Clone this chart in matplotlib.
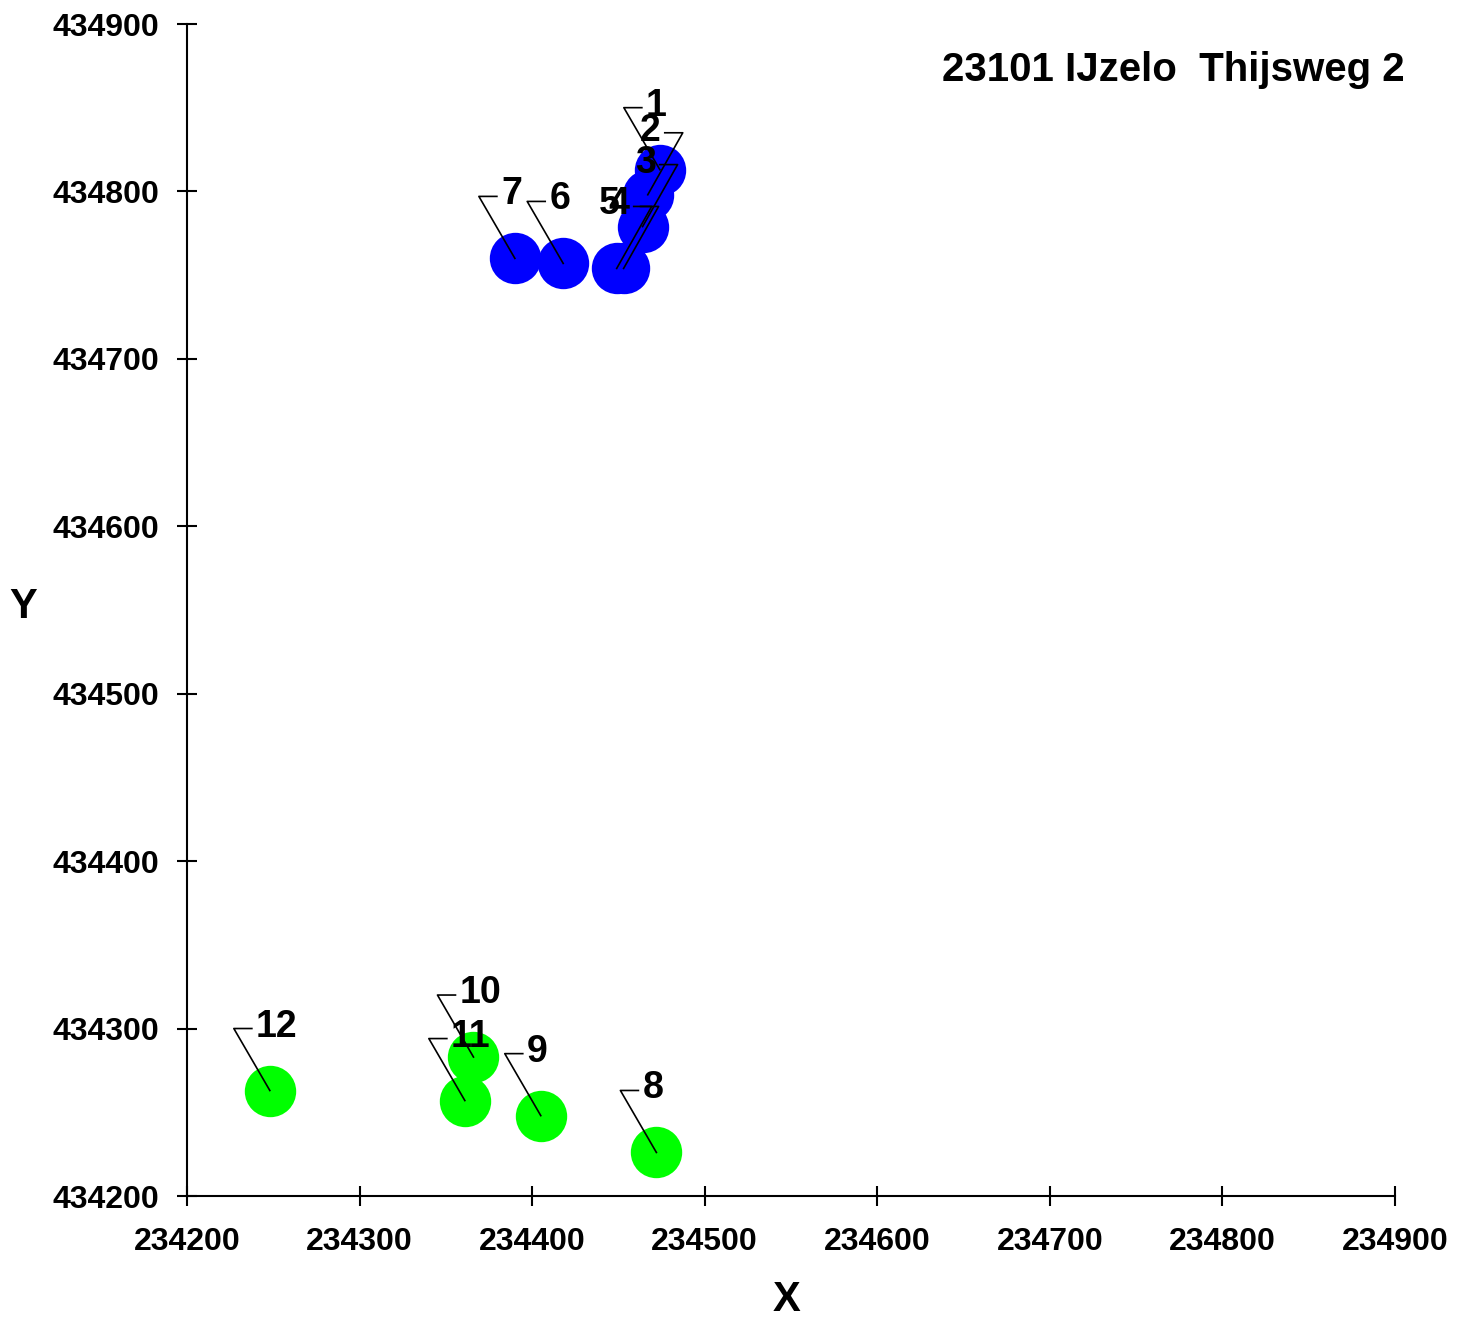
import matplotlib
matplotlib.use("Agg")
import matplotlib.pyplot as plt

plt.rcParams['font.family'] = ['Liberation Sans', 'DejaVu Sans']
plt.rcParams['font.weight'] = 'bold'

W, H = 1466, 1321

# punten (RD-coordinaten)
blue_labels = ['1', '2', '3', '4', '5', '6', '7']
blue_x = [234474, 234467, 234464, 234453, 234449, 234418, 234390]
blue_y = [434813, 434798, 434779, 434754, 434754, 434757, 434760]

green_labels = ['8', '9', '10', '11', '12']
green_x = [234472, 234405, 234366, 234361, 234248]
green_y = [434226, 434248, 434283, 434257, 434263]

x_ticks = [234200, 234300, 234400, 234500, 234600, 234700, 234800, 234900]
y_ticks = [434200, 434300, 434400, 434500, 434600, 434700, 434800, 434900]

title = "23101 IJzelo  Thijsweg 2"

# labels links van het haakje (haakje rechts)
right_side = ['2', '3', '4', '5']

fig = plt.figure(figsize=(W / 100, H / 100), dpi=100)
ax = fig.add_axes([187 / W, (H - 1196) / H, (1395 - 187) / W, (1196 - 24) / H])
ax.set_xlim(x_ticks[0], x_ticks[-1])
ax.set_ylim(y_ticks[0], y_ticks[-1])

ax.plot(blue_x, blue_y, 'o', color='#0000ff', markersize=37, markeredgewidth=0, zorder=2)
ax.plot(green_x, green_y, 'o', color='#00ff00', markersize=37, markeredgewidth=0, zorder=2)

inv = ax.transData.inverted()


def label_point(x, y, lab):
    px, py = ax.transData.transform((x, y))
    if lab in right_side:
        cx, cy = px + 35, py + 62
        hx = cx - 18
        tx, ha = hx - 4, 'right'
        if lab == '4':
            tx -= 7
        if lab == '5':
            tx -= 10
    else:
        cx, cy = px - 36, py + 62
        hx = cx + 18
        tx, ha = hx + 4, 'left'
    c = inv.transform((cx, cy))
    h = inv.transform((hx, cy))
    t = inv.transform((tx, cy + 2))
    ax.plot([x, c[0], h[0]], [y, c[1], h[1]], color='black', lw=1.2, zorder=3, clip_on=False)
    ax.text(t[0], t[1], lab, ha=ha, va='center', fontsize=27, fontweight='bold', zorder=4)


for x, y, lab in zip(blue_x, blue_y, blue_labels):
    label_point(x, y, lab)
for x, y, lab in zip(green_x, green_y, green_labels):
    label_point(x, y, lab)

ax.spines['top'].set_visible(False)
ax.spines['right'].set_visible(False)
ax.spines['left'].set_linewidth(1.5)
ax.spines['bottom'].set_linewidth(1.5)

ax.set_xticks(x_ticks)
ax.set_xticklabels([str(v) for v in x_ticks])
ax.set_yticks(y_ticks)
ax.set_yticklabels([str(v) for v in y_ticks])
ax.tick_params(direction='inout', length=14, width=1.5, labelsize=23, pad=13)
ax.tick_params(axis='x', pad=15)
for lbl in ax.get_xticklabels() + ax.get_yticklabels():
    lbl.set_fontweight('bold')

fig.text(787 / W, 1 - 1300 / H, 'X', ha='center', va='center', fontsize=30, fontweight='bold')
fig.text(23 / W, 1 - 607 / H, 'Y', ha='center', va='center', fontsize=30, fontweight='bold')
fig.text(1405 / W, 1 - 70 / H, title, ha='right', va='center', fontsize=29, fontweight='bold')

fig.savefig('out.png', dpi=100)
